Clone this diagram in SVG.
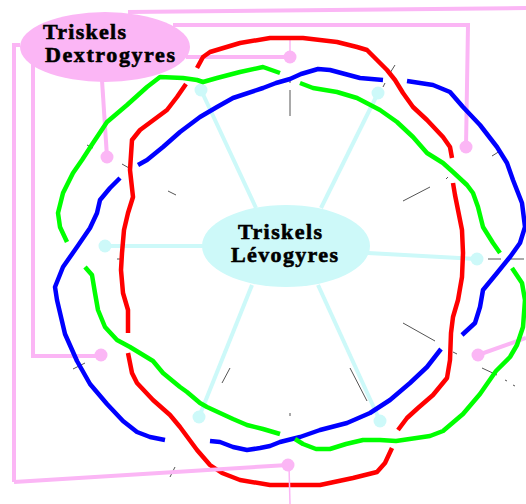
<svg xmlns="http://www.w3.org/2000/svg" width="526" height="504" viewBox="0 0 526 504">
  <style>
    .link { fill: none; stroke: #fbb6f5; stroke-width: 4; }
    .thin { fill: none; stroke: #fbb6f5; stroke-width: 1.5; }
    .dot { fill: #fbb6f5; }
    .spoke { fill: none; stroke: #cdf9f9; stroke-width: 4; }
    .knob { fill: #cdf9f9; }
    .strand { fill: none; stroke-width: 4.5; stroke-linejoin: round; stroke-linecap: butt; }
    .tick { fill: none; stroke: #555; stroke-width: 1; }
    .label { font-family: "Liberation Serif", "Times New Roman", serif; font-weight: bold; font-size: 22px; fill: #000; stroke: #000; stroke-width: 0.6; }
  </style>

  <rect width="526" height="504" fill="#fff"/>

  <!-- pink connectors of the dextrogyre node -->
  <g id="connectors">
    <path class="link" d="M128 12 L526 8"/>
    <path class="link" d="M173 25 L468 25 L466 147"/>
    <path class="link" d="M186 57 L290 57"/>
    <path class="thin" d="M290 38 L290 57"/>
    <path class="link" d="M102 80 L107 157"/>
    <path class="link" d="M20 45 L14 45 L14 482"/>
    <path class="link" d="M33 60 L33 356 L101 356"/>
    <path class="link" d="M478 355 L526 338"/>
    <circle class="dot" cx="290" cy="57" r="6.5"/>
    <circle class="dot" cx="466" cy="147" r="6.5"/>
    <circle class="dot" cx="107" cy="157" r="6.5"/>
    <circle class="dot" cx="101" cy="355" r="6.5"/>
    <circle class="dot" cx="478" cy="355" r="6.5"/>
  </g>

  <!-- cyan spokes of the levogyre node -->
  <g id="spokes">
    <path class="spoke" d="M201 90 L256 208"/>
    <path class="spoke" d="M378 93 L321 208"/>
    <path class="spoke" d="M105 246 L204 246"/>
    <path class="spoke" d="M477 259 L368 253"/>
    <path class="spoke" d="M199 417 L252 285"/>
    <path class="spoke" d="M380 421 L318 285"/>
    <circle class="knob" cx="201" cy="90" r="6.5"/>
    <circle class="knob" cx="378" cy="93" r="6.5"/>
    <circle class="knob" cx="105" cy="246" r="6.5"/>
    <circle class="knob" cx="477" cy="259" r="6.5"/>
    <circle class="knob" cx="199" cy="417" r="6.5"/>
    <circle class="knob" cx="380" cy="421" r="6.5"/>
  </g>

  <!-- faint guide ticks -->
  <g id="ticks">
    <path class="tick" d="M87 145 L93 148"/>
    <path class="tick" d="M122 164 L129 168"/>
    <path class="tick" d="M168 191 L176 195"/>
    <path class="tick" d="M117 259 L122 259"/>
    <path class="tick" d="M290 80 L290 83 M290 90 L290 116"/>
    <path class="tick" d="M390 73 L395 65 M383 87 L385 83"/>
    <path class="tick" d="M492 156 L500 151"/>
    <path class="tick" d="M446 179 L448 177"/>
    <path class="tick" d="M403 201 L430 187"/>
    <path class="tick" d="M488 259 L501 259 M511 259 L524 259"/>
    <path class="tick" d="M403 323 L435 341"/>
    <path class="tick" d="M453 352 L457 354"/>
    <path class="tick" d="M482 368 L497 375 M505 380 L507 381 M513 385 L515 386"/>
    <path class="tick" d="M350 368 L367 401"/>
    <path class="tick" d="M290 413 L290 416"/>
    <path class="tick" d="M222 383 L230 368"/>
    <path class="tick" d="M73 369 L85 363"/>
    <path class="tick" d="M170 477 L175 467"/>
  </g>

  <!-- three interlaced strands -->
  <g id="braid">
    <path class="strand" stroke="#0000ff" d="
      M407 81 L433 85 L450 92 L463 107 L480 125 L497 147 L507 163 L513 180 L522 203 L525 227 L520 243 L510 257 L497 273 L483 290 L480 307 L475 323 L462 335
      M441 349 L427 367 L410 383 L390 400 L370 413 L347 423 L320 430 L300 437 L280 442 L270 446 L260 448 L247 450 L233 447 L220 442 L210 441
      M165 440 L150 437 L137 432 L123 421 L107 404 L90 384 L77 361 L65 334 L57 300 L55 287 L63 267 L77 247 L90 228 L97 213 L100 200 L110 188 L120 178
      M138 165 L147 160 L163 147 L180 132 L200 117 L217 107 L233 98 L263 88 L276 83 L290 79 L301 74 L318 69 L330 70 L360 78 L383 80"/>
    <path class="strand" stroke="#00ff00" d="
      M300 83 L313 88 L337 92 L357 98 L380 110 L397 122 L413 137 L427 153 L443 163 L453 172 L467 185 L473 193 L478 207 L483 227 L493 243 L500 253
      M512 268 L522 283 L525 300 L523 327 L517 345 L510 357 L496 371 L480 394 L463 414 L443 431 L430 436 L396 441 L380 440 L363 440 L346 444 L330 449 L316 449 L303 444 L295 439
      M280 434 L263 429 L247 425 L233 419 L207 407 L200 403 L187 392 L180 387 L163 373 L153 361 L130 347 L117 340 L105 327 L98 310 L95 293 L92 275 L85 267
      M67 242 L60 227 L58 213 L63 193 L73 173 L82 160 L93 143 L107 122 L127 105 L147 87 L160 77 L183 78 L197 80 L203 82 L217 78 L240 72 L263 67 L280 73"/>
    <path class="strand" stroke="#ff0000" d="
      M197 68 L203 57 L210 52 L240 43 L270 38 L303 38 L337 42 L357 47 L367 50 L377 60 L387 70 L395 80 L403 93 L413 107 L427 120 L443 137 L450 147 L452 158
      M453 183 L455 195 L458 210 L462 230 L463 253 L462 277 L458 300 L453 317 L451 333 L450 360 L447 378 L433 395 L418 408 L407 418 L398 430
      M392 448 L385 463 L377 472 L353 478 L320 485 L270 485 L240 480 L222 473 L210 465 L197 450 L180 427 L170 415 L153 400 L137 383 L132 373 L128 353
      M128 333 L128 310 L123 293 L121 270 L122 253 L124 230 L128 213 L133 197 L130 170 L132 140 L140 130 L167 110 L177 97 L186 84"/>
  </g>

  <!-- bottom pink connector runs over the strands -->
  <g id="bottom-link">
    <path class="link" d="M14 482 L288 465"/>
    <path class="thin" d="M289 465 L290 504"/>
    <circle class="dot" cx="288" cy="465" r="6.5"/>
  </g>

  <g id="dextrogyres">
    <ellipse cx="105" cy="47" rx="85" ry="35" fill="#fbb6f5"/>
    <text class="label"><tspan x="43" y="39" textLength="83" lengthAdjust="spacing">Triskels</tspan><tspan x="45" y="62" textLength="130" lengthAdjust="spacing">Dextrogyres</tspan></text>
  </g>

  <g id="levogyres">
    <ellipse cx="286" cy="246" rx="84" ry="41" fill="#cdf9f9"/>
    <text class="label"><tspan x="238" y="239" textLength="84" lengthAdjust="spacing">Triskels</tspan><tspan x="231" y="262" textLength="107" lengthAdjust="spacing">Lévogyres</tspan></text>
  </g>
</svg>
